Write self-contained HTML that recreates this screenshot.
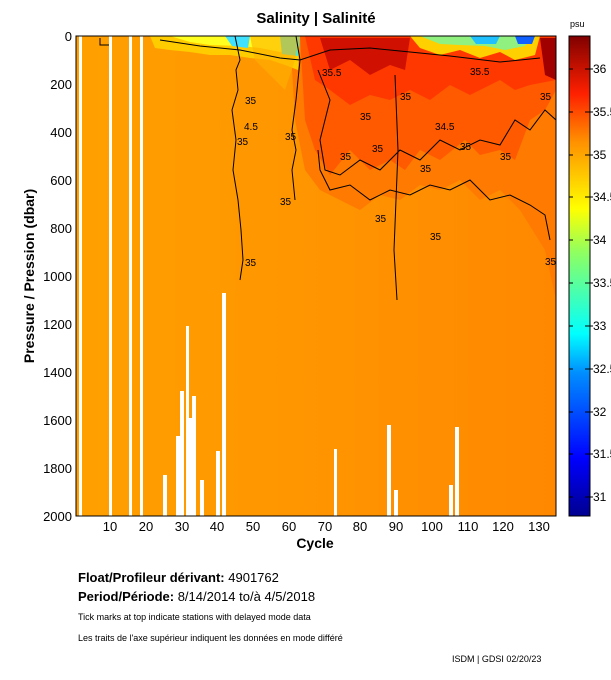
<!DOCTYPE html>
<html><head><meta charset="utf-8"><style>
body{margin:0;background:#fff;width:611px;height:675px;overflow:hidden;font-family:"Liberation Sans",Arial,sans-serif;}
svg text{font-family:"Liberation Sans",Arial,sans-serif;}
</style></head><body>
<svg width="611" height="675" xmlns="http://www.w3.org/2000/svg">
<defs>
<linearGradient id="jet" x1="0" y1="1" x2="0" y2="0">
<stop offset="0" stop-color="#00008f"/>
<stop offset="0.12" stop-color="#0000ff"/>
<stop offset="0.3" stop-color="#0090ff"/>
<stop offset="0.38" stop-color="#00ffff"/>
<stop offset="0.55" stop-color="#90ff60"/>
<stop offset="0.64" stop-color="#ffff00"/>
<stop offset="0.78" stop-color="#ff9000"/>
<stop offset="0.88" stop-color="#ff2000"/>
<stop offset="1" stop-color="#800000"/>
</linearGradient>
<linearGradient id="deep" x1="0" y1="0" x2="1" y2="0">
<stop offset="0" stop-color="#ffa000"/>
<stop offset="0.45" stop-color="#ff9600"/>
<stop offset="1" stop-color="#ff8800"/>
</linearGradient>
</defs>
<text x="316" y="23" font-size="15" font-weight="bold" text-anchor="middle">Salinity | Salinité</text>
<rect x="76" y="36" width="480" height="480" fill="url(#deep)"/>
<path d="M290,36 L556,36 L556,300 L545,250 L520,210 L500,190 L480,200 L460,180 L440,190 L420,185 L400,200 L380,195 L360,210 L340,200 L320,190 L305,170 L295,120 Z" fill="#ff7a00"/>
<path d="M300,36 L556,36 L556,90 L545,110 L530,120 L515,160 L500,150 L480,155 L465,140 L440,160 L420,150 L405,170 L390,160 L370,170 L350,150 L330,175 L315,150 L305,120 Z" fill="#ff5a00"/>
<path d="M305,36 L556,36 L556,80 L530,85 L515,90 L500,80 L470,95 L450,85 L430,100 L410,90 L390,100 L370,95 L350,105 L330,90 L315,80 Z" fill="#ff3800"/>
<path d="M320,38 L410,38 L405,70 L390,65 L370,75 L350,60 L330,70 Z" fill="#d01000"/>
<path d="M540,38 L556,38 L556,80 L545,75 Z" fill="#a00000"/>
<path d="M150,36 L300,36 L298,70 L285,65 L270,60 L250,58 L230,55 L210,55 L190,52 L170,50 L155,48 Z" fill="#ffcc00"/>
<path d="M170,36 L300,36 L296,50 L280,52 L260,48 L240,46 L210,45 L190,42 Z" fill="#ffff20"/>
<path d="M225,36 L250,36 L248,48 L232,46 Z" fill="#40e0ff"/>
<path d="M280,36 L300,36 L298,56 L282,54 Z" fill="#40e8e0"/>
<path d="M410,36 L540,36 L535,55 L515,60 L500,52 L480,58 L460,50 L440,55 L420,48 Z" fill="#ffd000"/>
<path d="M420,36 L530,36 L525,46 L505,50 L485,46 L460,45 L440,44 Z" fill="#90f080"/>
<path d="M470,36 L500,36 L496,44 L476,44 Z" fill="#20c0ff"/>
<path d="M515,36 L535,36 L532,44 L518,44 Z" fill="#1060ff"/>
<path d="M250,36 L300,36 L295,60 L285,90 L270,75 L255,60 Z" fill="#ffb000" opacity="0.6"/>
<g fill="none" stroke="#000" stroke-width="1">
<path d="M235,36 L240,60 L236,70 L238,90 L232,110 L236,140 L233,170 L238,200 L241,230 L243,260 L240,280"/>
<path d="M296,36 L300,60 L296,100 L292,130 L296,150 L292,170 L295,200"/>
<path d="M318,70 L330,100 L320,140 L325,170 L340,175 L360,160 L380,170 L400,150 L420,160 L440,140 L460,150 L480,140 L500,145 L515,120 L530,130 L545,110 L556,120"/>
<path d="M318,150 L320,170 L330,190 L350,185 L370,200 L390,190 L410,195 L430,185 L450,190 L470,180 L490,200 L510,195 L530,205 L545,215 L550,240"/>
<path d="M100,38 L100,45 L110,45 L110,38"/>
<path d="M160,40 L200,46 L240,50 L280,58 L300,60 L330,50 L370,48 L410,52 L450,56 L500,62 L540,58"/>
<path d="M395,75 L398,150 L394,250 L397,300"/>
</g>
<g font-size="10" fill="#000">
<text x="245" y="104">35</text><text x="237" y="145">35</text><text x="245" y="266">35</text>
<text x="285" y="140">35</text><text x="280" y="205">35</text><text x="340" y="160">35</text>
<text x="372" y="152">35</text><text x="420" y="172">35</text><text x="460" y="150">35</text>
<text x="500" y="160">35</text><text x="375" y="222">35</text><text x="430" y="240">35</text>
<text x="322" y="76">35.5</text><text x="470" y="75">35.5</text><text x="360" y="120">35</text>
<text x="540" y="100">35</text><text x="545" y="265">35</text><text x="244" y="130">4.5</text>
<text x="435" y="130">34.5</text><text x="400" y="100">35</text>
</g>
<g fill="#fff">
<rect x="79" y="36" width="3" height="480"/><rect x="109" y="36" width="3" height="480"/>
<rect x="129" y="36" width="3" height="480"/><rect x="140" y="36" width="3" height="480"/>
<rect x="163" y="475" width="4" height="41"/><rect x="176" y="436" width="4" height="80"/>
<rect x="180" y="391" width="4" height="125"/><rect x="186" y="326" width="3" height="190"/>
<rect x="189" y="418" width="3" height="98"/><rect x="192" y="396" width="4" height="120"/>
<rect x="200" y="480" width="4" height="36"/><rect x="216" y="451" width="4" height="65"/>
<rect x="222" y="293" width="4" height="223"/><rect x="334" y="449" width="3" height="67"/>
<rect x="387" y="425" width="4" height="91"/><rect x="394" y="490" width="4" height="26"/>
<rect x="449" y="485" width="4" height="31"/><rect x="455" y="427" width="4" height="89"/>
</g>
<rect x="76" y="36" width="480" height="480" fill="none" stroke="#000" stroke-width="1"/>
<g font-size="13" text-anchor="end">
<text x="72" y="41">0</text><text x="72" y="89">200</text><text x="72" y="137">400</text>
<text x="72" y="185">600</text><text x="72" y="233">800</text><text x="72" y="281">1000</text>
<text x="72" y="329">1200</text><text x="72" y="377">1400</text><text x="72" y="425">1600</text>
<text x="72" y="473">1800</text><text x="72" y="521">2000</text>
</g>
<text transform="translate(34,276) rotate(-90)" font-size="14" font-weight="bold" text-anchor="middle">Pressure / Pression (dbar)</text>
<g font-size="13" text-anchor="middle">
<text x="110" y="531">10</text><text x="146" y="531">20</text><text x="182" y="531">30</text>
<text x="217" y="531">40</text><text x="253" y="531">50</text><text x="289" y="531">60</text>
<text x="325" y="531">70</text><text x="360" y="531">80</text><text x="396" y="531">90</text>
<text x="432" y="531">100</text><text x="468" y="531">110</text><text x="503" y="531">120</text>
<text x="539" y="531">130</text>
</g>
<text x="315" y="548" font-size="14" font-weight="bold" text-anchor="middle">Cycle</text>
<text x="570" y="27" font-size="9">psu</text>
<rect x="569" y="36" width="21" height="480" fill="url(#jet)" stroke="#000"/>
<g stroke="#000">
<path d="M569,69h4M585,69h8M569,112h4M585,112h8M569,155h4M585,155h8M569,197h4M585,197h8M569,240h4M585,240h8M569,283h4M585,283h8M569,326h4M585,326h8M569,369h4M585,369h8M569,412h4M585,412h8M569,454h4M585,454h8M569,497h4M585,497h8"/>
</g>
<g font-size="12">
<text x="593" y="73">36</text><text x="593" y="116">35.5</text><text x="593" y="159">35</text>
<text x="593" y="201">34.5</text><text x="593" y="244">34</text><text x="593" y="287">33.5</text>
<text x="593" y="330">33</text><text x="593" y="373">32.5</text><text x="593" y="416">32</text>
<text x="593" y="458">31.5</text><text x="593" y="501">31</text>
</g>
<text x="78" y="582" font-size="13" font-weight="bold">Float/Profileur dérivant: <tspan font-weight="normal">4901762</tspan></text>
<text x="78" y="601" font-size="13" font-weight="bold">Period/Période: <tspan font-weight="normal">8/14/2014  to/à  4/5/2018</tspan></text>
<text x="78" y="620" font-size="9">Tick marks at top indicate stations with delayed mode data</text>
<text x="78" y="641" font-size="9">Les traits de l'axe supérieur indiquent les données en mode différé</text>
<text x="452" y="662" font-size="9">ISDM | GDSI  02/20/23</text>
</svg>
</body></html>
